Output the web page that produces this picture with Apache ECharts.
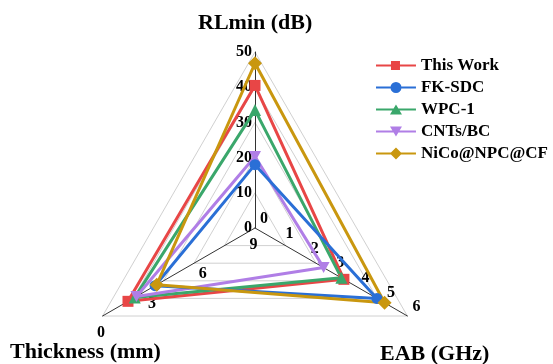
<!DOCTYPE html>
<html>
<head>
<meta charset="utf-8">
<script src="https://cdn.jsdelivr.net/npm/echarts@6/dist/echarts.min.js"></script>
<style>
html,body{margin:0;padding:0;background:#fff;}
#chart{width:553px;height:364px;}
</style>
</head>
<body>
<div id="chart"></div>
<script>
// ---- data ----
const indicatorNames = ['RLmin (dB)', 'Thickness (mm)', 'EAB (GHz)'];
const seriesNames = ['This Work', 'FK-SDC', 'WPC-1', 'CNTs/BC', 'NiCo@NPC@CF'];
const rlmin     = [40.5, 18.0, 33.5, 20.3, 46.8];
const thickness = [1.5, 3.1, 1.9, 2.0, 3.2];
const eab       = [3.5, 4.8, 3.4, 2.7, 5.1];
const rlTicks    = [0, 10, 20, 30, 40, 50];
const eabTicks   = [0, 1, 2, 3, 4, 5, 6];
const thickTicks = [0, 3, 6, 9];

// ---- styles ----
const colors  = ['#e84646', '#2a6fd6', '#3aa76b', '#b07ee6', '#c9970f'];
const symbols = ['rect', 'circle', 'triangle', 'path://M0,0 L10,0 L5,9 Z', 'diamond'];
const symSizes = [11, 11, 12, [12, 11], 14];
const legendIcons = [
  'path://M0 0h0.01v0.01h-0.01z M0 12h0.01v0.01h-0.01z M0 5H40V7H0Z M15 1.5H24V10.5H15Z',
  'path://M0 0h0.01v0.01h-0.01z M0 12h0.01v0.01h-0.01z M0 5H40V7H0Z M14.5 6A5.5 5.5 0 1 1 25.5 6A5.5 5.5 0 1 1 14.5 6Z',
  'path://M0 0h0.01v0.01h-0.01z M0 12h0.01v0.01h-0.01z M0 5H40V7H0Z M20 1L26 11H14Z',
  'path://M0 0h0.01v0.01h-0.01z M0 12h0.01v0.01h-0.01z M0 5H40V7H0Z M14 1H26L20 11Z',
  'path://M0 0h0.01v0.01h-0.01z M0 12h0.01v0.01h-0.01z M0 5H40V7H0Z M20 0L26 6L20 12L14 6Z'
];
const drawOrder = [0, 2, 3, 1, 4];

const serif = "'Liberation Serif', 'Times New Roman', serif";
const thickMax = Math.max.apply(null, thickTicks);
const rlMax = Math.max.apply(null, rlTicks);
const eabMax = Math.max.apply(null, eabTicks);

function gcd(a, b) { return b ? gcd(b, a % b) : a; }
function lcm(a, b) { return a * b / gcd(a, b); }
const splitN = lcm(lcm(rlTicks.length - 1, eabTicks.length - 1), thickTicks.length - 1);

function fmt(ticks, toPlot) {
  return function (v) {
    for (const t of ticks) {
      if (Math.abs(toPlot(t) - v) < 1e-6) return String(t);
    }
    return '';
  };
}

const labelBase = {
  show: true, color: '#000', fontFamily: serif, fontWeight: 'bold', fontSize: 16, margin: 5
};

const chart = echarts.init(document.getElementById('chart'), null, { renderer: 'canvas' });

const series = drawOrder.map(function (i) {
  return {
    type: 'radar',
    radarIndex: 1,
    name: seriesNames[i],
    symbol: symbols[i],
    symbolSize: symSizes[i],
    lineStyle: { color: colors[i], width: 3 },
    itemStyle: { color: colors[i] },
    data: [{ name: seriesNames[i], value: [rlmin[i], thickMax - thickness[i], eab[i]] }]
  };
});

const titleStyle = { fontFamily: serif, fontWeight: 'bold', fontSize: 22, color: '#000' };

const option = {
  animation: false,
  backgroundColor: '#ffffff',
  title: [
    { text: indicatorNames[0], left: 198, top: 12, padding: 0, textStyle: titleStyle },
    { text: indicatorNames[1], left: 10, top: 341, padding: 0, textStyle: titleStyle },
    { text: indicatorNames[2], left: 380, top: 343, padding: 0, textStyle: titleStyle }
  ],
  legend: {
    orient: 'vertical',
    left: 376,
    top: 57,
    padding: 0,
    itemGap: 5,
    itemWidth: 40,
    itemHeight: 12,
    textStyle: { fontFamily: serif, fontWeight: 'bold', fontSize: 17, color: '#000' },
    data: seriesNames.map(function (n, i) {
      return { name: n, icon: legendIcons[i], itemStyle: { color: colors[i] } };
    })
  },
  radar: [
    {
      center: [255, 228], radius: 176, shape: 'polygon', startAngle: 90,
      splitNumber: 5, silent: true,
      indicator: [{ name: '', min: 0, max: 1 }, { name: '', min: 0, max: 1 }, { name: '', min: 0, max: 1 }],
      axisName: { show: false },
      axisLine: { show: false }, axisTick: { show: false }, axisLabel: { show: false },
      splitLine: { show: true, lineStyle: { color: '#c4c4c4', width: 0.8 } },
      splitArea: { show: false }
    },
    {
      center: [255, 228], radius: 176, shape: 'polygon', startAngle: 90,
      splitNumber: splitN,
      indicator: [
        { name: indicatorNames[0], min: 0, max: rlMax,
          axisLabel: Object.assign({}, labelBase, { formatter: fmt(rlTicks, function (t) { return t; }), margin: 3 }) },
        { name: indicatorNames[1], min: 0, max: thickMax,
          axisLabel: Object.assign({}, labelBase, {
            formatter: fmt(thickTicks, function (t) { return thickMax - t; }),
            margin: 9, align: 'center', verticalAlign: 'top', padding: [1, 12, 0, 0]
          }) },
        { name: indicatorNames[2], min: 0, max: eabMax,
          axisLabel: Object.assign({}, labelBase, { formatter: fmt(eabTicks, function (t) { return t; }), margin: 10 }) }
      ],
      axisName: { show: false },
      axisLine: { show: true, lineStyle: { color: '#333', width: 1 } },
      axisTick: { show: false },
      axisLabel: labelBase,
      splitLine: { show: false },
      splitArea: { show: false }
    }
  ],
  series: series
};

chart.setOption(option);
</script>
</body>
</html>
